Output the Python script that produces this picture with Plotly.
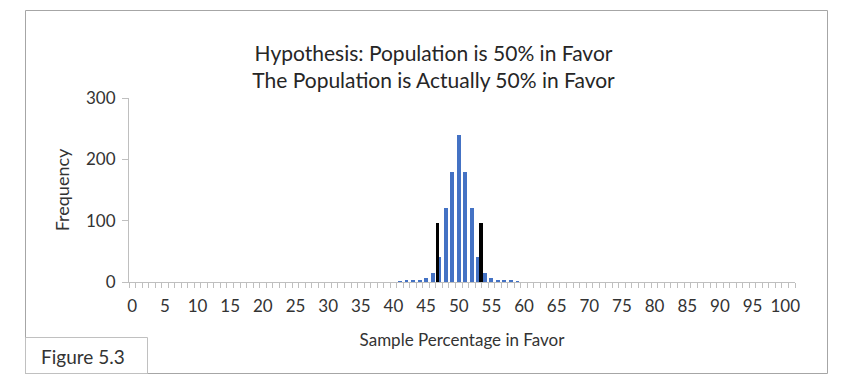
import plotly.graph_objects as go

# ---- data ----
categories = list(range(0, 102))            # sample percentage in favor (0..101)
freq_nonzero = {41: 1, 42: 2, 43: 2, 44: 3, 45: 6, 46: 14, 47: 40, 48: 120, 49: 180,
                50: 240, 51: 180, 52: 120, 53: 40, 54: 14, 55: 6, 56: 3, 57: 2,
                58: 2, 59: 1}
frequency = [freq_nonzero.get(c, 0) for c in categories]
crit_x = [46.7, 53.4]        # critical value markers
crit_top = [96, 96]
crit_base = [-11, -11]
tick_vals = list(range(0, 101, 5))
tick_text = [str(v) for v in tick_vals]

FONT = "Lato"
TXT = "#333333"
AX = "#BFBFBF"

OFF = 8                      # page body margin
W, H = 844 - OFF, 389 - OFF
# plot area in screen pixels
SX0, SX1, SY0, SY1 = 129, 795, 98, 282
L, T = SX0 - OFF, SY0 - OFF
R = W - (SX1 - OFF)
B = H - (SY1 - OFF)
pw, ph = W - L - R, H - T - B


def px(x):
    return (x - OFF - L) / pw


def py(y):
    return (H - B - (y - OFF)) / ph


fig = go.Figure()
fig.add_trace(go.Bar(x=categories, y=frequency, width=0.6,
                     marker=dict(color="#4472C4", line=dict(width=0)),
                     showlegend=False))
fig.add_trace(go.Bar(x=crit_x, y=[t - b for t, b in zip(crit_top, crit_base)],
                     base=crit_base, width=0.48,
                     marker=dict(color="#000000", line=dict(width=0)),
                     showlegend=False))

fig.update_layout(
    width=W, height=H,
    margin=dict(l=L, r=R, t=T, b=B, autoexpand=False),
    paper_bgcolor="white", plot_bgcolor="white",
    barmode="overlay", bargap=0,
    font=dict(family=FONT, color=TXT, size=17),
    xaxis=dict(range=[-0.5, 101.5], tickmode="array", tickvals=tick_vals,
               ticktext=tick_text, ticks="", showgrid=False, zeroline=False,
               showline=True, linecolor=AX, linewidth=1, ticklabelstandoff=9,
               tickfont=dict(size=17, family=FONT, color=TXT),
               minor=dict(ticks="outside", ticklen=5, tick0=-0.5, dtick=1,
                          tickcolor=AX, tickwidth=1, showgrid=False),
               title=dict(text="Sample Percentage in Favor",
                          font=dict(size=17, family=FONT, color=TXT), standoff=18)),
    yaxis=dict(range=[0, 300], tickvals=[0, 100, 200, 300], ticks="outside",
               ticklen=6, tickcolor=AX, showgrid=False, zeroline=False,
               showline=True, linecolor=AX, linewidth=1, ticklabelstandoff=3,
               tickfont=dict(size=17, family=FONT, color=TXT),
               title=dict(text="Frequency", font=dict(size=18, family=FONT, color=TXT),
                          standoff=11)),
    title=dict(text="Hypothesis: Population is 50% in Favor<br>The Population is Actually 50% in Favor",
               font=dict(size=21, family=FONT, color="#262626"), x=px(468), xanchor="center",
               y=1 - (53) / H, yanchor="middle"),
    shapes=[
        dict(type="rect", xref="paper", yref="paper", x0=px(25.5), x1=px(827.5),
             y0=py(373.5), y1=py(10.5), line=dict(color="#A6A6A6", width=1),
             fillcolor="rgba(0,0,0,0)", layer="below"),
        dict(type="rect", xref="paper", yref="paper", x0=px(25.5), x1=px(147.5),
             y0=py(373.5), y1=py(337.5), line=dict(color="#C0C0C0", width=1),
             fillcolor="rgba(0,0,0,0)", layer="below"),
    ],
    annotations=[
        dict(text="Figure 5.3", xref="paper", yref="paper", x=px(39), y=py(356),
             xanchor="left", yanchor="middle", showarrow=False,
             font=dict(size=19, family=FONT, color=TXT)),
    ],
)

fig.write_html("out.html")
